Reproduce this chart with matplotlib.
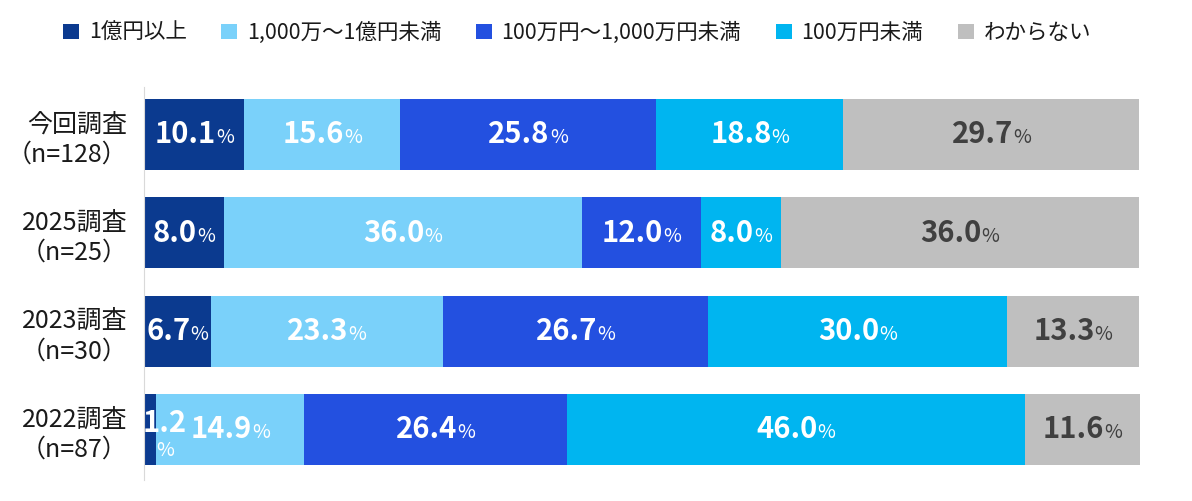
import matplotlib
matplotlib.use("Agg")
import matplotlib.pyplot as plt
from matplotlib.offsetbox import TextArea, HPacker, VPacker, AnnotationBbox
from matplotlib.patches import Patch

plt.rcParams["font.family"] = ["Noto Sans CJK JP", "DejaVu Sans"]

# データ
surveys = ["今回調査\n（n=128）", "2025調査\n（n=25）", "2023調査\n（n=30）", "2022調査\n（n=87）"]
categories = ["1億円以上", "1,000万～1億円未満", "100万円～1,000万円未満", "100万円未満", "わからない"]
oku_ijou = [10.1, 8.0, 6.7, 1.2]
sen_man = [15.6, 36.0, 23.3, 14.9]
hyaku_man = [25.8, 12.0, 26.7, 26.4]
hyaku_man_miman = [18.8, 8.0, 30.0, 46.0]
wakaranai = [29.7, 36.0, 13.3, 11.6]

series = [oku_ijou, sen_man, hyaku_man, hyaku_man_miman, wakaranai]
colors = ["#0b3a8f", "#7ad1fa", "#2350e0", "#00b5f0", "#bfbfbf"]
text_colors = ["white", "white", "white", "white", "#404040"]

fig = plt.figure(figsize=(11.92, 5.01), dpi=100)
ax = fig.add_axes([144 / 1192, 1 - 480 / 501, (1140 - 144) / 1192, (480 - 87) / 501])

y = list(range(len(surveys)))
left = [0.0] * len(surveys)
for vals, col, tcol in zip(series, colors, text_colors):
    ax.barh(y, vals, left=left, height=0.72, color=col)
    for i, v in enumerate(vals):
        cx = left[i] + v / 2
        num = TextArea("%.1f" % v, textprops=dict(color=tcol, fontsize=21, fontweight="bold"))
        pct = TextArea("%", textprops=dict(color=tcol, fontsize=14))
        if v < 3:
            # 細いセグメントは数字の下に%
            box = VPacker(children=[num, pct], pad=0, sep=1, align="center")
            ab = AnnotationBbox(box, (left[i], y[i] + 0.05), frameon=False, box_alignment=(0.02, 0.5),
                                pad=0)
        else:
            box = HPacker(children=[num, pct], pad=0, sep=0, align="baseline")
            ab = AnnotationBbox(box, (cx, y[i]), frameon=False, box_alignment=(0.5, 0.5), pad=0)
        ax.add_artist(ab)
    left = [l + v for l, v in zip(left, vals)]

ax.set_xlim(0, 100.1)
ax.set_ylim(3.514, -0.483)
ax.set_yticks(y)
ax.set_yticklabels(surveys, fontsize=18, multialignment="right", color="#1a1a1a")
ax.tick_params(axis="y", length=0, pad=12)
ax.set_xticks([])
for s in ["top", "right", "bottom"]:
    ax.spines[s].set_visible(False)
ax.spines["left"].set_color("#d9d9d9")

handles = [Patch(facecolor=c, edgecolor="none") for c in colors]
leg = fig.legend(handles, categories, loc="center", bbox_to_anchor=(0.484, 1 - 33 / 501), ncol=5,
                 frameon=False, fontsize=15.5, handlelength=0.75, handleheight=0.75,
                 handletextpad=0.45, columnspacing=1.6)
for t in leg.get_texts():
    t.set_color("#1a1a1a")

fig.savefig("out.png", dpi=100)
